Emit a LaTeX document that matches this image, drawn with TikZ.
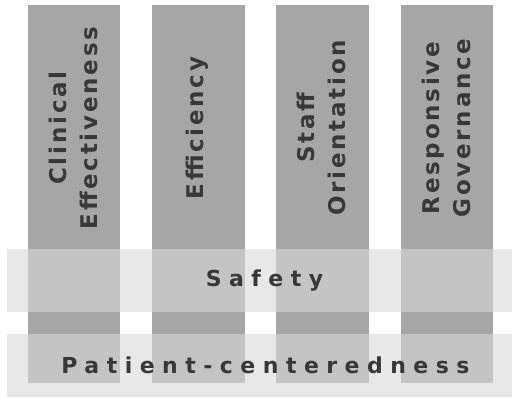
\documentclass[tikz,border=0pt]{standalone}
\usepackage{fontspec}
\newfontfamily\pillarfont{DejaVu Sans}[LetterSpace=12]
\newfontfamily\bandfont{DejaVu Sans}[LetterSpace=34]
\usepackage{tikz}
\definecolor{pillargray}{gray}{0.65}
\definecolor{bandgray}{gray}{0.85}
\definecolor{labelgray}{gray}{0.22}
\tikzset{
  pillar/.style={fill=pillargray, minimum width=92.5pt, minimum height=378pt, inner sep=0pt},
  band/.style={fill=bandgray, fill opacity=0.6, minimum width=505pt, minimum height=63pt, inner sep=0pt},
  pillartext/.style={rotate=90, align=center, text=labelgray,
    font=\pillarfont\bfseries\fontsize{23}{31}\selectfont},
  bandtext/.style={text=labelgray, font=\bandfont\bfseries\fontsize{22}{26}\selectfont}
}
\begin{document}
\begin{tikzpicture}[x=1pt,y=-1pt]
\useasboundingbox (0,0) rectangle (517,398);

% pillars
\node[pillar] (clin) at (74,194) {};
\node[pillar] (effi) at (198.5,194) {};
\node[pillar] (staff) at (322.5,194) {};
\node[pillar] (resp) at (447,194) {};

\node[pillartext] (clinlabel) at (73,128) {Clinical\\Effectiveness};
\node[pillartext] (effilabel) at (197.5,128) {Efficiency};
\node[pillartext] (stafflabel) at (321.5,128) {Staff\\Orientation};
\node[pillartext] (resplabel) at (446,128) {Responsive\\Governance};

% cross bands
\node[band] (safety) at (259.5,280.5) {};
\node[band] (patient) at (259.5,365.5) {};

\node[bandtext] (safetylabel) at ([xshift=5pt]safety.center) {Safety};
\node[bandtext] (patientlabel) at ([xshift=6pt]patient.center) {Patient-centeredness};
\end{tikzpicture}
\end{document}
